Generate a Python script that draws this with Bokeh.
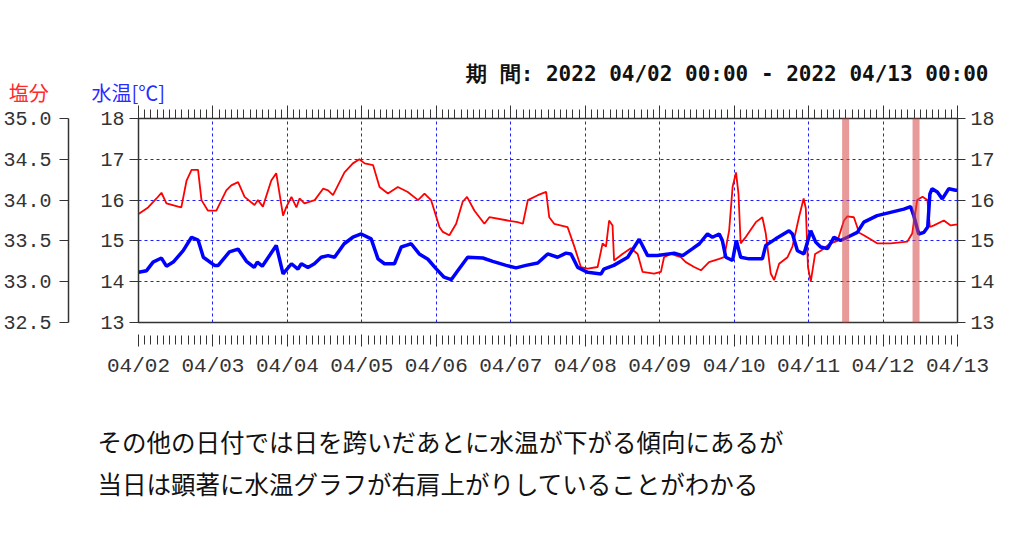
import pandas as pd
from bokeh.plotting import figure
from bokeh.models import (LinearAxis, DatetimeAxis, Range1d, FixedTicker,
                          DatetimeTickFormatter, NumeralTickFormatter, Label,
                          PolyAnnotation)
from bokeh.embed import file_html
from bokeh.resources import INLINE

# ---------------- data ----------------
START = pd.Timestamp("2022-04-02 00:00")
END = pd.Timestamp("2022-04-13 00:00")

# water temperature [°C]  (hours since START)
temp_hours = [
    0, 2.6, 4.7, 7.4, 9.0, 11.2, 14.4, 17.1, 19.2, 20.9,
    24.5, 25.7, 29.3, 32.1, 33.2, 34.8, 37.3, 38.3, 39.9, 42.4,
    44.4, 46.6, 49.3, 51.4, 52.5, 54.6, 56.7, 58.9, 61.1, 63.2,
    66.3, 69.1, 71.8, 75.0, 77.2, 79.3, 82.5, 84.7, 86.3, 87.9,
    90.5, 93.3, 95.9, 98.5, 100.8, 102.9, 106.1, 111.0, 114.2, 118.5,
    121.7, 124.9, 128.7, 131.9, 135.1, 137.8, 139.4, 141.6, 144.8, 149.1,
    150.0, 153.2, 157.7, 161.4, 164.1, 167.3, 172.7, 175.4, 178.6, 180.8,
    183.4, 185.0, 187.2, 188.2, 189.3, 191.5, 192.7, 194.1, 196.8, 201.1,
    202.2, 205.4, 209.7, 210.8, 212.4, 214.5, 216.7, 218.3, 219.9, 222.1,
    224.2, 226.3, 228.5, 231.7, 233.8, 238.1, 242.4, 246.7, 248.9, 249.9,
    251.5, 253.2, 254.4, 255.1, 255.8, 257.5, 259.1, 261.2, 263.4, 264.0,
]
temp_vals = [
    14.23, 14.27, 14.48, 14.58, 14.38, 14.48, 14.76, 15.09, 15.02, 14.60,
    14.40, 14.40, 14.73, 14.80, 14.68, 14.50, 14.35, 14.48, 14.38, 14.66,
    14.89, 14.19, 14.44, 14.31, 14.44, 14.35, 14.44, 14.60, 14.64, 14.60,
    14.93, 15.09, 15.17, 15.05, 14.56, 14.44, 14.44, 14.85, 14.89, 14.93,
    14.68, 14.55, 14.32, 14.11, 14.05, 14.27, 14.60, 14.58, 14.50, 14.40,
    14.34, 14.40, 14.46, 14.68, 14.60, 14.70, 14.68, 14.35, 14.23, 14.19,
    14.31, 14.40, 14.60, 15.04, 14.64, 14.64, 14.70, 14.64, 14.81, 14.93,
    15.17, 15.09, 15.17, 15.01, 14.60, 14.52, 15.01, 14.60, 14.56, 14.56,
    14.89, 15.05, 15.25, 15.17, 14.76, 14.68, 15.25, 14.97, 14.85, 14.81,
    15.09, 15.01, 15.09, 15.21, 15.46, 15.62, 15.70, 15.78, 15.84, 15.62,
    15.17, 15.21, 15.34, 16.15, 16.28, 16.20, 16.03, 16.28, 16.24, 16.24,
]

# salinity  (hours since START)
sal_hours = [
    0, 3.1, 5.8, 7.4, 9.0, 12.8, 13.8, 15.5, 17.1, 19.2,
    20.3, 22.4, 25.1, 28.3, 29.9, 32.1, 34.2, 37.4, 38.5, 40.1,
    42.8, 44.4, 46.6, 47.6, 49.3, 50.9, 51.9, 53.5, 56.8, 59.5,
    61.1, 62.7, 66.4, 69.1, 71.2, 72.9, 75.6, 77.7, 80.4, 83.6,
    86.8, 90.1, 92.2, 94.3, 97.0, 98.1, 100.2, 102.4, 104.5, 105.9,
    108.3, 111.5, 113.1, 119.0, 122.2, 123.9, 125.5, 128.7, 131.4, 132.4,
    134.0, 138.3, 140.5, 142.6, 144.8, 148.0, 149.6, 150.7, 151.7, 152.8,
    153.3, 156.0, 158.7, 160.9, 162.5, 166.2, 168.4, 169.4, 171.6, 174.8,
    176.4, 179.1, 181.3, 183.9, 187.2, 188.8, 190.4, 191.5, 192.6, 193.4,
    194.1, 195.8, 199.0, 201.1, 202.2, 203.8, 204.9, 206.5, 209.2, 210.8,
    212.9, 214.4, 215.1, 215.8, 216.7, 218.1, 219.9, 223.1, 225.3, 227.4,
    228.5, 230.6, 232.3, 233.8, 238.1, 242.4, 247.8, 249.4, 251.0, 252.7,
    254.3, 255.1, 256.4, 259.6, 261.8, 263.4, 264.0,
]
sal_vals = [
    33.83, 33.91, 34.02, 34.09, 33.96, 33.92, 33.91, 34.24, 34.37, 34.37,
    34.00, 33.87, 33.87, 34.12, 34.18, 34.22, 34.04, 33.94, 34.00, 33.92,
    34.24, 34.33, 33.81, 33.91, 34.04, 33.91, 34.02, 33.96, 34.00, 34.14,
    34.12, 34.06, 34.34, 34.45, 34.50, 34.45, 34.43, 34.16, 34.08, 34.16,
    34.10, 34.00, 34.08, 34.00, 33.67, 33.61, 33.57, 33.71, 33.98, 34.04,
    33.87, 33.71, 33.79, 33.75, 33.73, 33.71, 34.00, 34.06, 34.10, 33.79,
    33.71, 33.67, 33.43, 33.18, 33.16, 33.18, 33.47, 33.43, 33.75, 33.69,
    33.26, 33.34, 33.41, 33.34, 33.12, 33.10, 33.12, 33.30, 33.34, 33.30,
    33.24, 33.18, 33.14, 33.24, 33.28, 33.30, 33.63, 34.16, 34.34, 34.08,
    33.47, 33.55, 33.73, 33.79, 33.59, 33.10, 33.02, 33.22, 33.30, 33.43,
    33.79, 34.02, 33.90, 33.18, 33.00, 33.34, 33.38, 33.47, 33.50, 33.75,
    33.80, 33.79, 33.60, 33.57, 33.47, 33.47, 33.49, 33.59, 34.00, 34.04,
    34.00, 33.67, 33.69, 33.75, 33.69, 33.70, 33.70,
]

temp_ticks = [13, 14, 15, 16, 17, 18]
sal_ticks = [32.5, 33.0, 33.5, 34.0, 34.5, 35.0]

title_text = f"期 間: {START:%Y %m/%d %H:%M} - {END:%Y %m/%d %H:%M}"
sal_label = "塩分"
temp_label = "水温[℃]"
note_lines = [
    "その他の日付では日を跨いだあとに水温が下がる傾向にあるが",
    "当日は顕著に水温グラフが右肩上がりしていることがわかる",
]

# ---------------- layout ----------------
W, H = 1024, 538
FL, FR, FT, FB = 137, 957, 118, 322   # frame edges in px


def ms(ts):
    return ts.value / 1e6


x0, x1 = ms(START), ms(END)
y0, y1 = temp_ticks[0], temp_ticks[-1]


def xd(px):
    return x0 + (px - FL) / (FR - FL) * (x1 - x0)


def yd(py):
    return y1 - (py - FT) / (FB - FT) * (y1 - y0)


temp_t = [START + pd.Timedelta(hours=h) for h in temp_hours]
sal_t = [START + pd.Timedelta(hours=h) for h in sal_hours]

day_ticks = [ms(d) for d in pd.date_range(START, END, freq="D")]
minor_ticks = [ms(d) for d in pd.date_range(START, END, freq="2h")]
xticker = FixedTicker(ticks=day_ticks, minor_ticks=minor_ticks)
yticker = FixedTicker(ticks=temp_ticks)

TICK_FONT = "Liberation Mono"
AX = "#333333"

p = figure(width=W, height=H, title=None, x_axis_type="datetime",
           x_range=Range1d(x0, x1), y_range=Range1d(y0, y1),
           output_backend="svg", toolbar_location=None,
           min_border_left=FL, min_border_right=W - FR,
           min_border_top=FT, min_border_bottom=H - FB)
p.extra_y_ranges = {"sal": Range1d(sal_ticks[0], sal_ticks[-1])}
p.background_fill_color = "white"
p.border_fill_color = "white"
p.outline_line_color = AX
p.outline_line_width = 1.5

fmt = DatetimeTickFormatter(days="%m/%d", hours="%m/%d", months="%m/%d",
                            hourmin="%m/%d", minutes="%m/%d")

# bottom axis
xax = p.xaxis[0]
xax.ticker = xticker
xax.formatter = fmt
xax.axis_line_color = None
xax.major_tick_in = -12
xax.major_tick_out = 24
xax.minor_tick_in = -13
xax.minor_tick_out = 22
xax.major_tick_line_color = AX
xax.minor_tick_line_color = AX
xax.major_label_text_font = TICK_FONT
xax.major_label_text_font_size = "21px"
xax.major_label_text_color = AX
xax.major_label_standoff = 8

# top axis (ticks only)
top = DatetimeAxis(ticker=xticker, formatter=fmt)
top.axis_line_color = None
top.major_tick_in = 0
top.major_tick_out = 13
top.minor_tick_in = 0
top.minor_tick_out = 9
top.major_tick_line_color = AX
top.minor_tick_line_color = AX
top.major_label_text_color = None
p.add_layout(top, "above")

# left temperature axis
yax = p.yaxis[0]
yax.ticker = yticker
yax.axis_line_color = AX
yax.major_tick_in = 0
yax.major_tick_out = 9
yax.minor_tick_line_color = None
yax.major_tick_line_color = AX
yax.major_label_text_font = TICK_FONT
yax.major_label_text_font_size = "20px"
yax.major_label_text_color = AX
yax.major_label_standoff = 5

# spacer between the two left axes (invisible white tick, no label)
spacer = LinearAxis(ticker=FixedTicker(ticks=[15.5]))
spacer.axis_line_color = None
spacer.major_tick_line_color = "white"
spacer.minor_tick_line_color = None
spacer.major_label_text_color = None
spacer.major_tick_in = 0
spacer.major_tick_out = 29
spacer.major_label_standoff = 0
p.add_layout(spacer, "left")

# salinity axis
sax = LinearAxis(y_range_name="sal", ticker=FixedTicker(ticks=sal_ticks),
                 formatter=NumeralTickFormatter(format="0.0"))
sax.axis_line_color = AX
sax.axis_line_width = 1.5
sax.major_tick_in = 0
sax.major_tick_out = 9
sax.major_tick_line_color = AX
sax.minor_tick_line_color = None
sax.major_label_text_font = TICK_FONT
sax.major_label_text_font_size = "20px"
sax.major_label_text_color = AX
sax.major_label_standoff = 8
p.add_layout(sax, "left")

# right temperature axis
rax = LinearAxis(ticker=yticker)
rax.axis_line_color = AX
rax.major_tick_in = 0
rax.major_tick_out = 8
rax.minor_tick_line_color = None
rax.major_tick_line_color = AX
rax.major_label_text_font = TICK_FONT
rax.major_label_text_font_size = "20px"
rax.major_label_text_color = AX
rax.major_label_standoff = 5
p.add_layout(rax, "right")

# grids
for g in (p.xgrid, p.ygrid):
    g.grid_line_color = "#2020ff"
    g.grid_line_dash = "3 3"
    g.grid_line_width = 1
p.xgrid.ticker = xticker
p.ygrid.ticker = yticker

# series
p.line(sal_t, sal_vals, y_range_name="sal", line_color="#ff0000", line_width=1.8)
p.line(temp_t, temp_vals, line_color="#0000ff", line_width=3.5)

# highlight box (visible inside the plot frame)
box_px = ([845, 915.5, 915.5, 845], [114, 114, 398, 398])
p.add_layout(PolyAnnotation(xs=[xd(v) for v in box_px[0]],
                            ys=[yd(v) for v in box_px[1]],
                            fill_color=None, line_color="#d64545",
                            line_alpha=0.55, line_width=7), "below")

# texts
p.add_layout(Label(x=xd(988), y=yd(73), text=title_text, text_align="right",
                   text_baseline="middle", text_font="DejaVu Sans Mono",
                   text_font_style="bold", text_font_size="21px",
                   text_color="#111111"), "above")
p.add_layout(Label(x=xd(7), y=yd(92), text=sal_label, text_align="left",
                   text_baseline="middle", text_font="Noto Sans CJK JP",
                   text_font_size="20px", text_color="#ff2a2a"), "above")
p.add_layout(Label(x=xd(90), y=yd(92), text=temp_label, text_align="left",
                   text_baseline="middle", text_font="Noto Sans CJK JP",
                   text_font_size="20px", text_color="#2a2aff"), "above")
for i, line in enumerate(note_lines):
    p.add_layout(Label(x=xd(96), y=yd(441 + 42 * i), text=line,
                       text_align="left", text_baseline="middle",
                       text_font="Noto Sans CJK JP", text_font_size="24.5px",
                       text_color="#111111"), "below")

open("out.html", "w").write(file_html(p, INLINE))
